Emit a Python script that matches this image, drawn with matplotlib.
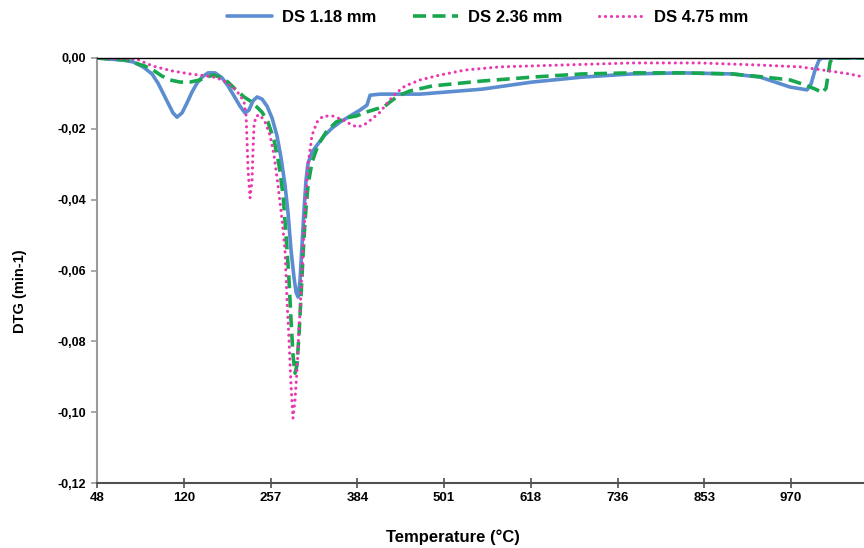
import matplotlib.pyplot as plt
from matplotlib.ticker import FuncFormatter

plt.rcParams['font.family'] = ['Liberation Sans', 'DejaVu Sans']
plt.rcParams['font.weight'] = 'bold'

# axe des x = axe de categories (Excel) : position 0..8 = etiquettes de temperature
temp_labels = ['48', '120', '257', '384', '501', '618', '736', '853', '970']
x_max = 8.84

# DS 1.18 mm
x_118 = [0, 0.300, 0.415, 0.530, 0.634, 0.703, 0.761, 0.818, 0.876, 0.922, 0.980,
         1.037, 1.095, 1.153, 1.210, 1.280, 1.360, 1.441, 1.510, 1.579, 1.648, 1.706,
         1.752, 1.798, 1.845, 1.902, 1.960, 2.017, 2.075, 2.121, 2.167, 2.202, 2.236,
         2.271, 2.294, 2.317, 2.340, 2.363, 2.386, 2.409, 2.432, 2.478, 2.536, 2.617,
         2.709, 2.801, 2.916, 3.032, 3.112, 3.147, 3.262, 3.723, 4.438, 5.014, 5.591,
         6.167, 6.744, 7.320, 7.643, 7.816, 7.988, 8.184, 8.230, 8.276, 8.322, 8.357,
         8.841]
y_118 = [0, -0.0006, -0.0011, -0.0025, -0.0045, -0.0071, -0.0099, -0.0127, -0.0155,
         -0.0167, -0.0155, -0.0127, -0.0096, -0.0071, -0.0054, -0.0042, -0.0042,
         -0.0056, -0.0079, -0.0107, -0.0136, -0.0155, -0.0147, -0.0121, -0.0110,
         -0.0116, -0.0136, -0.0169, -0.0220, -0.0282, -0.0359, -0.0438, -0.0542,
         -0.0621, -0.0661, -0.0675, -0.0627, -0.0528, -0.0429, -0.0345, -0.0297,
         -0.0266, -0.0246, -0.0220, -0.0198, -0.0181, -0.0164, -0.0147, -0.0133,
         -0.0105, -0.0102, -0.0102, -0.0088, -0.0068, -0.0054, -0.0045, -0.0042,
         -0.0045, -0.0054, -0.0068, -0.0082, -0.0090, -0.0073, -0.0034, -0.0006, 0, 0]

# DS 2.36 mm
x_236 = [0, 0.346, 0.438, 0.553, 0.646, 0.749, 0.841, 0.957, 1.072, 1.187, 1.268,
         1.337, 1.418, 1.510, 1.602, 1.695, 1.764, 1.833, 1.902, 1.971, 2.040, 2.098,
         2.144, 2.179, 2.213, 2.236, 2.259, 2.282, 2.305, 2.328, 2.352, 2.375, 2.398,
         2.432, 2.478, 2.548, 2.640, 2.755, 2.870, 2.986, 3.101, 3.216, 3.308, 3.378,
         3.470, 3.608, 3.862, 4.438, 5.014, 5.591, 6.167, 6.744, 7.320, 7.700, 7.988,
         8.161, 8.299, 8.357, 8.403, 8.426, 8.450, 8.484, 8.841]
y_236 = [0, -0.0006, -0.0014, -0.0023, -0.0034, -0.0051, -0.0062, -0.0068, -0.0068,
         -0.0062, -0.0054, -0.0048, -0.0054, -0.0068, -0.0090, -0.0110, -0.0121,
         -0.0136, -0.0153, -0.0181, -0.0232, -0.0302, -0.0387, -0.0500, -0.0627,
         -0.0740, -0.0839, -0.0890, -0.0867, -0.0782, -0.0669, -0.0556, -0.0458,
         -0.0359, -0.0294, -0.0246, -0.0209, -0.0181, -0.0169, -0.0164, -0.0153,
         -0.0144, -0.0138, -0.0124, -0.0107, -0.0093, -0.0079, -0.0065, -0.0054,
         -0.0045, -0.0042, -0.0042, -0.0045, -0.0054, -0.0062, -0.0076, -0.0090,
         -0.0099, -0.0085, -0.0048, -0.0011, 0, 0]

# DS 4.75 mm
x_475 = [0, 0.461, 0.530, 0.646, 0.726, 0.876, 1.072, 1.268, 1.383, 1.487, 1.579,
         1.648, 1.695, 1.718, 1.729, 1.741, 1.764, 1.787, 1.798, 1.810, 1.833, 1.879,
         1.937, 1.994, 2.040, 2.086, 2.133, 2.167, 2.190, 2.213, 2.236, 2.259, 2.282,
         2.305, 2.328, 2.352, 2.375, 2.398, 2.432, 2.478, 2.536, 2.605, 2.720, 2.836,
         2.916, 2.997, 3.078, 3.170, 3.262, 3.355, 3.447, 3.551, 3.723, 3.954, 4.242,
         4.646, 5.337, 6.167, 6.951, 7.643, 8.104, 8.450, 8.669, 8.841]
y_475 = [0, -0.0003, -0.0011, -0.0023, -0.0028, -0.0037, -0.0045, -0.0051, -0.0056,
         -0.0068, -0.0085, -0.0105, -0.0124, -0.0161, -0.0232, -0.0316, -0.0395,
         -0.0345, -0.0260, -0.0189, -0.0164, -0.0161, -0.0181, -0.0218, -0.0274,
         -0.0359, -0.0458, -0.0542, -0.0684, -0.0797, -0.0924, -0.1017, -0.0966,
         -0.0881, -0.0768, -0.0655, -0.0542, -0.0429, -0.0302, -0.0218, -0.0181,
         -0.0164, -0.0164, -0.0175, -0.0186, -0.0195, -0.0189, -0.0172, -0.0153,
         -0.0124, -0.0099, -0.0079, -0.0062, -0.0048, -0.0034, -0.0025, -0.0020,
         -0.0014, -0.0014, -0.0020, -0.0025, -0.0037, -0.0045, -0.0054]

fig = plt.figure(figsize=(8.64, 5.48), dpi=100)
ax = fig.add_axes([97 / 864, 65 / 548, 767 / 864, 425 / 548])

ax.plot(x_118, y_118, color='#5B8DD0', lw=2.6, label='DS 1.18 mm',
        solid_joinstyle='round', solid_capstyle='round')
ax.plot(x_236, y_236, color='#17A84F', lw=2.6, dashes=(3.6, 1.8), label='DS 2.36 mm')
ax.plot(x_475, y_475, color='#EC35B0', lw=2.2, dashes=(0.05, 1.9), label='DS 4.75 mm',
        dash_capstyle='round')

ax.set_xlim(0, x_max)
ax.set_ylim(-0.12, 0)
ax.set_xticks(range(len(temp_labels)))
ax.set_xticklabels(temp_labels)
ax.set_yticks([0, -0.02, -0.04, -0.06, -0.08, -0.10, -0.12])
ax.yaxis.set_major_formatter(FuncFormatter(lambda v, p: f'{v:.2f}'.replace('.', ',').replace('-0,00', '0,00')))

ax.spines['right'].set_visible(False)
ax.spines['top'].set_color('black')
ax.spines['top'].set_linewidth(1.0)
ax.spines['left'].set_color('#9A9A9A')
ax.spines['left'].set_linewidth(1.5)
ax.spines['bottom'].set_color('#505050')
ax.spines['bottom'].set_linewidth(1.5)
ax.tick_params(axis='x', direction='inout', length=7, width=1.2, color='#505050',
               labelsize=9.5, pad=3)
ax.tick_params(axis='y', direction='out', length=4, width=1.2, color='#9A9A9A',
               labelsize=9, pad=4)
for lab in ax.get_xticklabels() + ax.get_yticklabels():
    lab.set_fontweight('bold')

fig.text(20 / 864, 1 - 291 / 548, 'DTG (min-1)', ha='center', va='center',
         rotation=90, fontsize=10.5, fontweight='bold')
fig.text(453 / 864, 1 - 537 / 548, 'Temperature (°C)', ha='center', va='center',
         fontsize=12, fontweight='bold')

fig.legend(loc='center', bbox_to_anchor=(488 / 864, 1 - 17 / 548), ncol=3,
           frameon=False, handlelength=2.7, columnspacing=2.2,
           handletextpad=0.6, prop={'weight': 'bold', 'size': 12})

fig.savefig('out.png', dpi=100)
